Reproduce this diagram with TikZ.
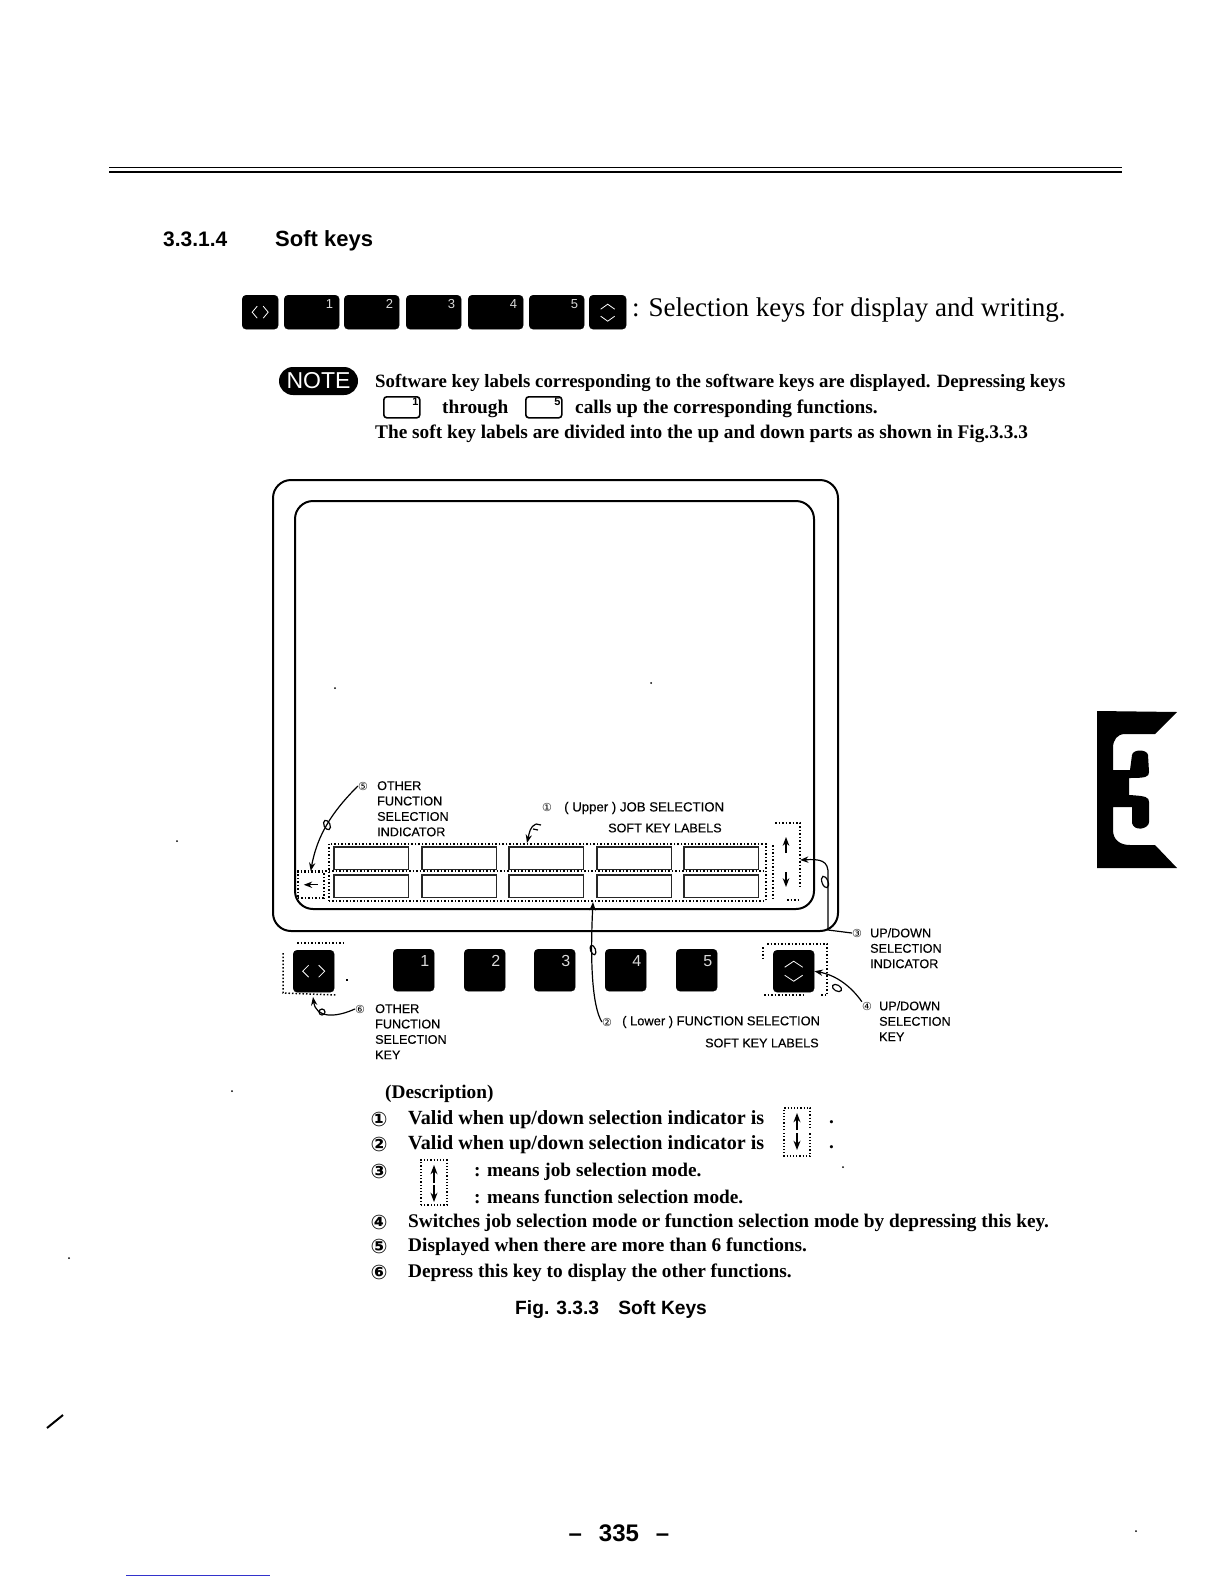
\documentclass[tikz,border=0pt]{standalone}
\usepackage{fontspec}
\setmainfont{Liberation Serif}
\setsansfont{Liberation Sans}
\newfontfamily\symf{DejaVu Sans}
\newfontfamily\capsf[FakeBold=0.3]{Liberation Sans}
\usetikzlibrary{positioning, arrows.meta, calc}

\begin{document}
\begin{tikzpicture}[
    x=1pt, y=-1pt,
    >=Stealth,
    % Styles
    softkey/.style={fill=black, draw=black, rounded corners=4pt, anchor=north west, inner sep=0pt},
    keynum/.style={font=\sffamily\fontsize{13}{13}\selectfont, text=white!85!black, inner sep=0pt},
    bigkey/.style={softkey, minimum width=41pt, minimum height=42pt},
    labelcell/.style={draw=black!85, line width=1.6pt, anchor=north west, minimum width=74.5pt, minimum height=22.5pt, inner sep=0pt},
    dotbox/.style={draw=black, dotted, line width=1.5pt},
    leader/.style={->, line width=1.2pt},
    tag/.style={font=\symf\fontsize{11}{11}\selectfont, inner sep=0pt},
    caps/.style={font=\capsf\fontsize{12.6}{15.4}\selectfont, align=left, anchor=north west, inner sep=0pt},
    body/.style={font=\bfseries\fontsize{19.3}{22}\selectfont, anchor=west, inner sep=0pt, yshift=-2pt},
    item/.style={font=\symf\bfseries\fontsize{20}{20}\selectfont, inner sep=0pt, yshift=-1pt},
    chevron/.style={white, line width=0.8pt}
    ]

    \useasboundingbox (0,0) rectangle (1224,1584);

    % 1. Page rule and heading
    \draw[line width=0.8pt] (109,167) -- (1122,167);
    \draw[line width=1.8pt] (109,172) -- (1122,172);
    \node (sec_num) [anchor=west, inner sep=0pt, font=\sffamily\bfseries\fontsize{21}{21}\selectfont] at (163,239) {3.3.1.4};
    \node (sec_title) [anchor=west, inner sep=0pt, font=\sffamily\bfseries\fontsize{22}{22}\selectfont] at (275,241) {Soft keys};

    % 2. Row of keys at the top
    \node (top_l) [softkey, minimum width=36pt, minimum height=34pt] at (242,295) {};
    \draw[chevron] ($(top_l.center)+(-3,-6)$) -- ($(top_l.center)+(-8,0)$) -- ($(top_l.center)+(-3,6)$);
    \draw[chevron] ($(top_l.center)+(3,-6)$) -- ($(top_l.center)+(8,0)$) -- ($(top_l.center)+(3,6)$);
    \foreach \n/\x in {1/284, 2/344, 3/406, 4/468, 5/529} {
        \node (top_\n) [softkey, minimum width=55pt, minimum height=34pt] at (\x,295) {};
        \node [keynum, anchor=north east] at ($(top_\n.north east)+(-6,4)$) {\n};
    }
    \node (top_r) [softkey, minimum width=37pt, minimum height=34pt] at (589,295) {};
    \draw[chevron] ($(top_r.center)+(-7,-3)$) -- ($(top_r.center)+(0,-8)$) -- ($(top_r.center)+(7,-3)$);
    \draw[chevron] ($(top_r.center)+(-7,4)$) -- ($(top_r.center)+(0,9)$) -- ($(top_r.center)+(7,4)$);
    \node (top_text) [anchor=west, inner sep=0pt, font=\fontsize{27}{27}\selectfont] at (632,310) {: Selection keys for display and writing.};

    % 3. Note
    \node (note) [fill=black, text=white, rounded corners=14pt, minimum width=79pt, minimum height=28pt, inner sep=0pt, font=\sffamily\fontsize{23}{23}\selectfont] at (318.5,381) {NOTE};
    \node (note_a) [body, font=\bfseries\fontsize{18.8}{22}\selectfont] at (375,381) {Software key labels corresponding to the software keys are displayed. Depressing keys};
    \node (key_a) [draw=black, line width=1.6pt, rounded corners=3pt, minimum width=36pt, minimum height=21pt, anchor=north west, inner sep=0pt] at (383,396) {};
    \node [font=\sffamily\bfseries\fontsize{11}{11}\selectfont, anchor=north east, inner sep=0pt] at ($(key_a.north east)+(-2,2)$) {1};
    \node (note_b) [body] at (442,407) {through};
    \node (key_b) [draw=black, line width=1.6pt, rounded corners=3pt, minimum width=36pt, minimum height=21pt, anchor=north west, inner sep=0pt] at (525,396) {};
    \node [font=\sffamily\bfseries\fontsize{11}{11}\selectfont, anchor=north east, inner sep=0pt] at ($(key_b.north east)+(-2,2)$) {5};
    \node (note_c) [body] at (575,407) {calls up the corresponding functions.};
    \node (note_d) [body] at (375,432) {The soft key labels are divided into the up and down parts as shown in Fig.3.3.3};

    % 4. Screen
    \node (screen) [draw=black, line width=2pt, rounded corners=18pt, anchor=north west, minimum width=565pt, minimum height=451pt, inner sep=0pt] at (272,479) {};
    \node (inner) [draw=black, line width=2pt, rounded corners=18pt, anchor=north west, minimum width=519pt, minimum height=408pt, inner sep=0pt] at (294,500) {};

    % Soft key label cells
    \foreach \n/\x in {1/333, 2/421, 3/508, 4/596, 5/683} {
        \node (up_\n) [labelcell] at (\x,846) {};
        \node (lo_\n) [labelcell] at (\x,874) {};
    }
    \node (cells) [dotbox, anchor=north west, minimum width=437pt, minimum height=57pt, inner sep=0pt] at (328,843) {};
    \draw[dotbox] (297,871) -- (765,871);

    % Left indicator
    \node (ind_l) [dotbox, anchor=north west, minimum width=26pt, minimum height=26pt, inner sep=0pt] at (297,871) {};
    \draw[<-, line width=1.2pt] ($(ind_l.center)+(-7,0)$) -- ($(ind_l.center)+(7,0)$);

    % Right indicator
    \coordinate (ind_r) at (800,860);
    \draw[dotbox] (775,823) -- (800,823) -- (800,887);
    \draw[dotbox] (773,845) -- (773,900);
    \draw[dotbox] (787,900) -- (798,900);
    \draw[->, line width=1.3pt] (786,853) -- (786,837);
    \draw[->, line width=1.3pt] (786,872) -- (786,887);

    % 5. Keys under the screen
    \node (key_l) [bigkey] at (293,950) {};
    \draw[chevron] ($(key_l.center)+(-5,-6)$) -- ($(key_l.center)+(-11,0)$) -- ($(key_l.center)+(-5,6)$);
    \draw[chevron] ($(key_l.center)+(5,-6)$) -- ($(key_l.center)+(11,0)$) -- ($(key_l.center)+(5,6)$);
    \foreach \n/\x in {1/393, 2/464, 3/534, 4/605, 5/676} {
        \node (key_\n) [bigkey] at (\x,949) {};
        \node [keynum, font=\sffamily\fontsize{16}{16}\selectfont, anchor=north east] at ($(key_\n.north east)+(-5,6)$) {\n};
    }
    \node (key_r) [bigkey] at (773,950) {};
    \draw[chevron] ($(key_r.center)+(-9,-4)$) -- ($(key_r.center)+(0,-10)$) -- ($(key_r.center)+(9,-4)$);
    \draw[chevron] ($(key_r.center)+(-9,4)$) -- ($(key_r.center)+(0,10)$) -- ($(key_r.center)+(9,4)$);

    % Dotted marks round the two outer keys
    \draw[dotbox] (297,943) -- (346,943);
    \draw[dotbox] (283,953) -- (283,993) -- (337,995);
    \draw[dotbox] (347,979) -- (347,981);
    \draw[dotbox] (767,944) -- (827,944) -- (827,995) -- (820,995);
    \draw[dotbox] (763,947) -- (763,958);
    \draw[dotbox] (764,995) -- (804,995);

    % 6. Callouts
    \node (tag_1) [tag] at (547,807) {①};
    \node (up_a) [caps, anchor=west, font=\capsf\fontsize{13.2}{15.4}\selectfont] at (564,808) {( Upper ) JOB SELECTION};
    \node (up_b) [caps, anchor=west] at (608,828) {SOFT KEY LABELS};

    \node (tag_5) [tag] at (363,786) {⑤};
    \node (lbl_5) [caps] at (377,781) {OTHER\\FUNCTION\\SELECTION\\INDICATOR};

    \node (tag_6) [tag] at (360,1009) {⑥};
    \node (lbl_6) [caps] at (375,1004) {OTHER\\FUNCTION\\SELECTION\\KEY};

    \node (tag_2) [tag] at (607,1022) {②};
    \node (lo_a) [caps, anchor=west, font=\capsf\fontsize{12.9}{15.4}\selectfont] at (622,1022) {( Lower ) FUNCTION SELECTION};
    \node (lo_b) [caps, anchor=west] at (705,1043) {SOFT KEY LABELS};

    \node (tag_3) [tag] at (857,933) {③};
    \node (lbl_3) [caps] at (870,928) {UP/DOWN\\SELECTION\\INDICATOR};

    \node (tag_4) [tag] at (867,1006) {④};
    \node (lbl_4) [caps] at (879,1001) {UP/DOWN\\SELECTION\\KEY};

    % Leaders, each with its small hand-drawn loop
    \draw[leader] (tag_5.west) .. controls (338,806) and (318,830) .. (ind_l.north);
    \draw[line width=1.2pt, rotate around={25:(327,825)}] (327,825) ellipse (3 and 5);
    \draw[leader] (536,824) .. controls (530,826) and (529,834) .. (527,843);
    \draw[line width=1.2pt] (536,824) -- (541,825);
    \draw[line width=1.2pt] (533,829) -- (538,830);
    \draw[leader] (tag_2.west) .. controls (592,1006) and (590,960) .. (593,902);
    \draw[line width=1.2pt, rotate around={20:(593,950)}] (593,950) ellipse (2.5 and 5);
    \draw[leader] (tag_6.west) .. controls (335,1018) and (316,1018) .. (313,997);
    \draw[line width=1.2pt] (322,1012) circle (3);
    \draw[leader] (tag_3.west) -- (828,930) -- (828,875) .. controls (829,860) and (820,859) .. (ind_r);
    \draw[line width=1.2pt, rotate around={20:(825,882)}] (825,882) ellipse (3 and 6);
    \draw[leader] (tag_4.north west) .. controls (850,985) and (835,975) .. (key_r.east);
    \draw[line width=1.2pt, rotate around={60:(837,988)}] (837,988) ellipse (3 and 5);

    % 7. Description
    \node (desc) [body] at (385,1092) {(Description)};
    \foreach \n/\y/\t in {
        1/1118/{\fontsize{20.1}{22}\selectfont Valid when up/down selection indicator is},
        2/1143/{\fontsize{20.1}{22}\selectfont Valid when up/down selection indicator is},
        4/1221/{Switches job selection mode or function selection mode by depressing this key.},
        5/1245/{Displayed when there are more than 6 functions.},
        6/1271/{Depress this key to display the other functions.}} {
        \node (desc_\n) [body] at (408,\y) {\t};
    }
    \node (num_1) [item] at (379,1118) {①};
    \node (num_2) [item] at (379,1143) {②};
    \node (num_3) [item] at (379,1170) {③};
    \node (num_4) [item] at (379,1221) {④};
    \node (num_5) [item] at (379,1245) {⑤};
    \node (num_6) [item] at (379,1271) {⑥};
    \node (desc_3a) [body] at (474,1170) {: means job selection mode.};
    \node (desc_3b) [body] at (474,1195) {: means function selection mode.};

    % Small indicators in the text
    \draw[dotbox, line width=1.2pt] (784,1130) -- (784,1108) -- (810,1108) -- (810,1130);
    \draw[->, line width=1.4pt] (797,1130) -- (797,1113);
    \draw[dotbox, line width=1.2pt] (784,1133) -- (784,1156) -- (810,1156) -- (810,1133);
    \draw[->, line width=1.4pt] (797,1133) -- (797,1150);
    \node (dot_a) [body] at (829,1120) {.};
    \node (dot_b) [body] at (829,1145) {.};
    \draw[dotbox, line width=1.2pt] (421,1205) -- (421,1160) -- (447,1160) -- (447,1205) -- cycle;
    \draw[->, line width=1.4pt] (434,1183) -- (434,1165);
    \draw[->, line width=1.4pt] (434,1185) -- (434,1202);

    % Caption and page number
    \node (caption) [anchor=west, inner sep=0pt, font=\sffamily\bfseries\fontsize{19.2}{19.2}\selectfont] at (515,1310) {Fig. 3.3.3\quad Soft Keys};
    \node (page) [inner sep=0pt, font=\sffamily\bfseries\fontsize{24}{24}\selectfont] at (619,1533) {--\hspace{17pt}335\hspace{17pt}--};

    % 8. Chapter tab
    \fill[black] (1097,711) -- (1177,712) -- (1155,734) -- (1125,734)
        .. controls (1117,734) and (1113,740) .. (1113,748) -- (1113,770) -- (1130,770)
        -- (1132,755) .. controls (1133,749) and (1147,749) .. (1148,755) -- (1149,772)
        .. controls (1149,777) and (1146,778) .. (1129,778) -- (1129,795)
        .. controls (1146,796) and (1149,797) .. (1149,802) -- (1149,822)
        .. controls (1149,829) and (1134,832) .. (1132,823) -- (1132,807) -- (1113,807) -- (1113,830)
        .. controls (1113,840) and (1120,845) .. (1130,845) -- (1155,845) -- (1177,868) -- (1097,868) -- cycle;

    % Marks on the sheet
    \foreach \x/\y in {335/688, 651/683, 177/841, 232/1091, 69/1258, 843/1167, 1136/1531} {
        \fill (\x,\y) circle (1);
    }
    \draw[line width=2pt] (47,1428) -- (63,1415);
    \draw[blue!60!gray, line width=0.8pt] (126,1575) -- (270,1575);
\end{tikzpicture}
\end{document}
